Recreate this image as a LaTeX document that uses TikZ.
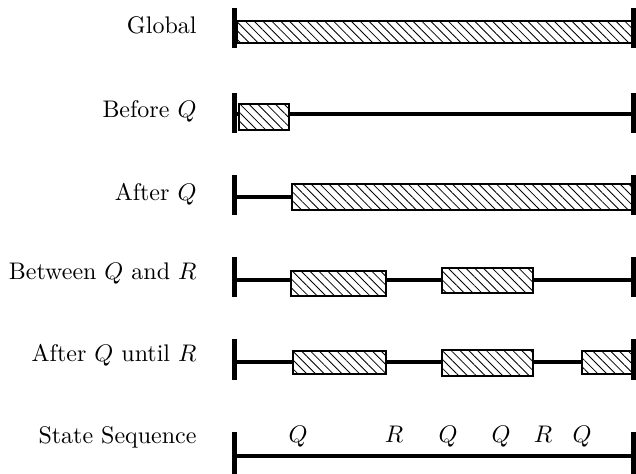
\documentclass[tikz,border=0pt]{standalone}
\usetikzlibrary{patterns.meta}
\tikzset{
  endbar/.style={line width=1.9pt},
  timeline/.style={line width=1.9pt},
  hatchbox/.style={draw, line width=1.1pt, preaction={fill=white},
    pattern={Lines[angle=-45,distance=2.6pt,line width=0.35pt]}},
  rowlabel/.style={anchor=base east, inner sep=0pt},
  statelabel/.style={anchor=base, inner sep=0pt},
}
\begin{document}
\begin{tikzpicture}[x=0.41667pt,y=-0.41667pt]
\useasboundingbox (0,0) rectangle (636,473);
% labels
\node[rowlabel] (lglobal) at (197,33) {Global};
\node[rowlabel] (lbefore) at (197,117) {Before $Q$};
\node[rowlabel] (lafter) at (197,200) {After $Q$};
\node[rowlabel] (lbetween) at (197,279) {Between $Q$ and $R$};
\node[rowlabel] (luntil) at (197,361) {After $Q$ until $R$};
\node[rowlabel] (lstate) at (197,443) {State Sequence};
% row 1 Global
\draw[hatchbox] (237,21) rectangle (633,43);
\draw[endbar] (234.5,8) -- (234.5,48);
\draw[endbar] (633.5,8) -- (633.5,48);
% row 2 Before Q
\draw[timeline] (234.5,114) -- (633.5,114);
\draw[hatchbox] (239,104) rectangle (289,130);
\draw[endbar] (234.5,93) -- (234.5,133);
\draw[endbar] (633.5,93) -- (633.5,133);
% row 3 After Q
\draw[timeline] (234.5,197) -- (633.5,197);
\draw[hatchbox] (292,184) rectangle (633,210);
\draw[endbar] (234.5,175) -- (234.5,215);
\draw[endbar] (633.5,175) -- (633.5,215);
% row 4 Between Q and R
\draw[timeline] (234.5,280) -- (633.5,280);
\draw[hatchbox] (291,271) rectangle (386,296);
\draw[hatchbox] (442,268) rectangle (533,293);
\draw[endbar] (234.5,257) -- (234.5,297);
\draw[endbar] (633.5,257) -- (633.5,297);
% row 5 After Q until R
\draw[timeline] (234.5,362) -- (633.5,362);
\draw[hatchbox] (293,351) rectangle (386,374);
\draw[hatchbox] (442,350) rectangle (533,376);
\draw[hatchbox] (582,351) rectangle (633,374);
\draw[endbar] (234.5,339) -- (234.5,380);
\draw[endbar] (633.5,339) -- (633.5,380);
% row 6 State sequence
\draw[timeline] (234.5,456) -- (633.5,456);
\draw[endbar] (234.5,432) -- (234.5,476);
\draw[endbar] (633.5,432) -- (633.5,476);
\node[statelabel] (s1) at (298,442) {$Q$};
\node[statelabel] (s2) at (394,442) {$R$};
\node[statelabel] (s3) at (448,442) {$Q$};
\node[statelabel] (s4) at (501,442) {$Q$};
\node[statelabel] (s5) at (543,442) {$R$};
\node[statelabel] (s6) at (582,442) {$Q$};
\end{tikzpicture}
\end{document}
